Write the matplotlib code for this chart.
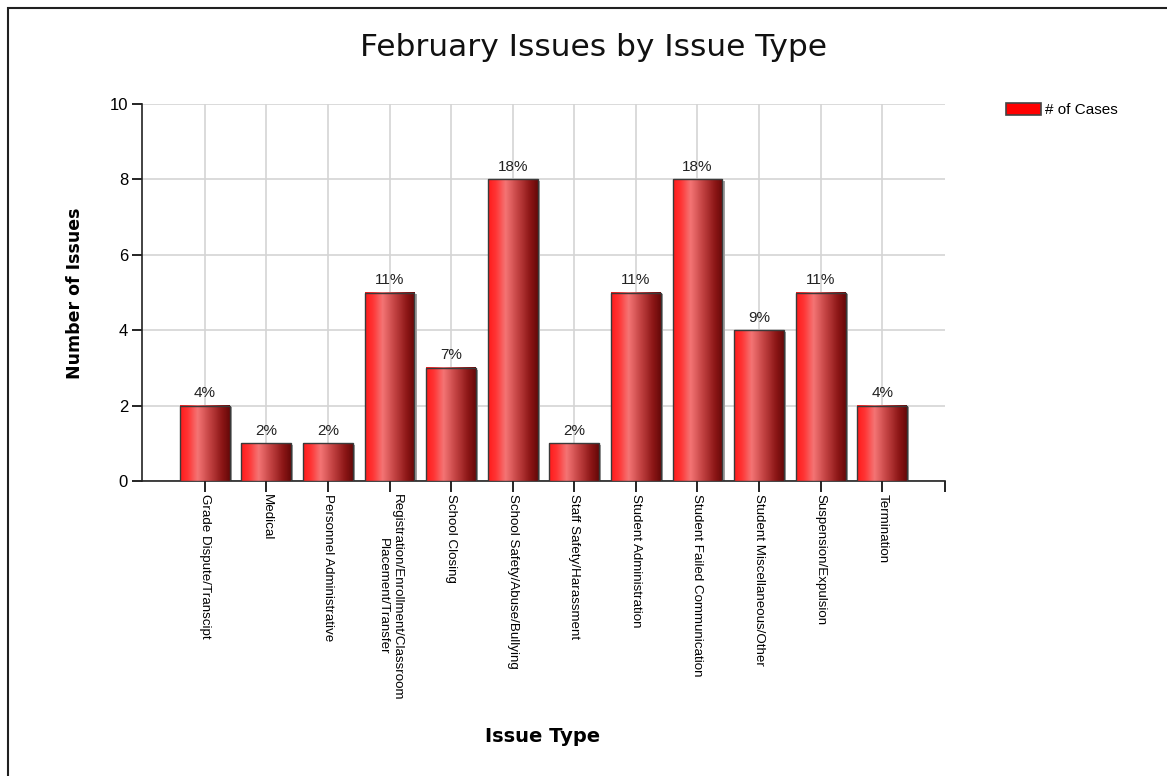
import matplotlib
matplotlib.use("Agg")
import matplotlib.pyplot as plt
from matplotlib.colors import LinearSegmentedColormap
from matplotlib.patches import Rectangle, Patch
import numpy as np

# data
categories = [
    "Grade Dispute/Transcipt",
    "Medical",
    "Personnel Administrative",
    "Registration/Enrollment/Classroom\nPlacement/Transfer",
    "School Closing",
    "School Safety/Abuse/Bullying",
    "Staff Safety/Harassment",
    "Student Administration",
    "Student Failed Communication",
    "Student Miscellaneous/Other",
    "Suspension/Expulsion",
    "Termination",
]
cases = [2, 1, 1, 5, 3, 8, 1, 5, 8, 4, 5, 2]
y_ticks = [0, 2, 4, 6, 8, 10]

total = sum(cases)
pct_labels = ["%d%%" % round(100.0 * c / total) for c in cases]

W, H = 1167, 776
fig = plt.figure(figsize=(W / 100, H / 100), dpi=100)
fig.patch.set_facecolor("white")

# outer frame of the chart image
fig.patches.append(Rectangle((8 / W, -0.05), 1.2, 1 - 8 / H + 0.05,
                             transform=fig.transFigure, fill=False,
                             edgecolor="#202020", linewidth=1.5))

ax = fig.add_axes([142 / W, 295 / H, 803 / W, 377 / H])

grad = LinearSegmentedColormap.from_list(
    "cyl", [(0.0, "#ff1c1c"), (0.15, "#ff3434"), (0.35, "#f47474"),
            (0.6, "#c24242"), (0.85, "#8c1616"), (1.0, "#680909")])
strip = np.linspace(0, 1, 64).reshape(1, -1)

x = np.arange(len(categories))
bw = 0.81
for xi, v in zip(x, cases):
    # shadow
    ax.add_patch(Rectangle((xi - bw / 2 + 0.035, 0), bw, v - 0.045,
                           facecolor="#a0a0a0", edgecolor="none", zorder=2))
    ax.imshow(strip, cmap=grad, aspect="auto", interpolation="bilinear",
              extent=(xi - bw / 2, xi + bw / 2, 0, v), zorder=3)
bars = ax.bar(x, cases, width=bw, facecolor="none", edgecolor="#3a3a3a",
              linewidth=1.0, zorder=4)

for xi, v, lab in zip(x, cases, pct_labels):
    ax.text(xi, v + 0.15, lab, ha="center", va="bottom", fontsize=11,
            family="Liberation Sans", color="#222222", zorder=5)

ax.set_xlim(-1.02, 12.02)
ax.set_ylim(0, 10)
ax.set_yticks(y_ticks)
ax.set_xticks(x)
ax.set_xticks([12.02], minor=True)
ax.set_xticklabels(categories, rotation=-90, ha="center", va="top",
                   fontsize=9.6, family="Liberation Sans", linespacing=1.25)
ax.set_yticklabels([str(t) for t in y_ticks], fontsize=12, family="Liberation Sans")
ax.tick_params(axis="x", which="both", direction="out", length=8, width=1.2, pad=1)
ax.tick_params(axis="y", direction="out", length=7, width=1.2, pad=3)

ax.grid(True, color="#d4d4d4", linewidth=1.2, zorder=0)
ax.set_axisbelow(True)
for s in ("top", "right"):
    ax.spines[s].set_visible(False)
for s in ("left", "bottom"):
    ax.spines[s].set_linewidth(1.2)
    ax.spines[s].set_color("#222222")

fig.text(593 / W, 1 - 48 / H, "February Issues by Issue Type", ha="center",
         va="center", fontsize=22.5, family="DejaVu Sans", color="#111111")
fig.text(75 / W, 1 - 293 / H, "Number of Issues", rotation=90, ha="center",
         va="center", fontsize=12.5, fontweight="bold", family="DejaVu Sans")
fig.text(543 / W, 1 - 736 / H, "Issue Type", ha="center", va="center",
         fontsize=14, fontweight="bold", family="DejaVu Sans")

handle = Patch(facecolor="#ff0000", edgecolor="#444444", linewidth=1.2)
fig.legend([handle], ["# of Cases"], loc="upper left",
           bbox_to_anchor=(992 / W, 1 - 89 / H), frameon=False,
           prop={"family": "Liberation Sans", "size": 11},
           handlelength=2.3, handleheight=0.85, handletextpad=0.3)

fig.savefig("out.png", dpi=100)
